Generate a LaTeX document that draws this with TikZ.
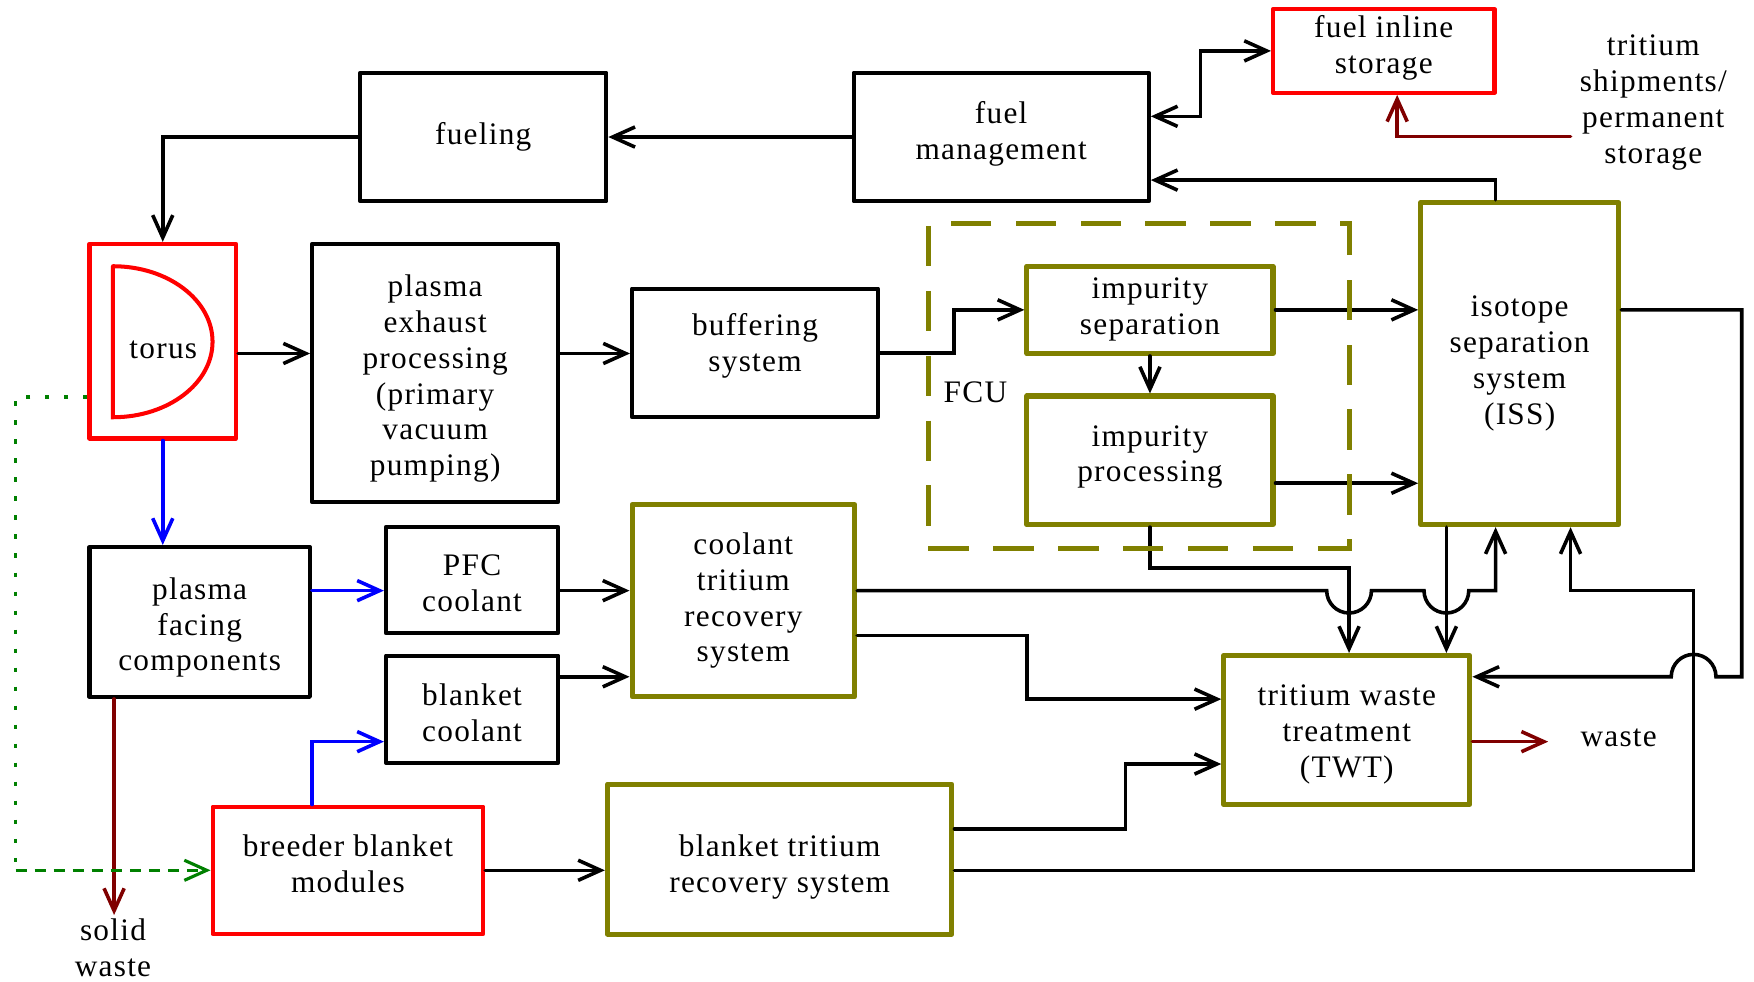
\documentclass[tikz,border=0pt]{standalone}
\usepackage{fontspec}
\setmainfont{Liberation Serif}[LetterSpace=4]
\usetikzlibrary{arrows.meta}
\definecolor{olv}{RGB}{128,128,0}
\definecolor{drk}{RGB}{128,0,0}
\definecolor{grn}{RGB}{0,128,0}
\begin{document}
\begin{tikzpicture}[x=0.5pt,y=-0.5pt,
  >={Straight Barb[length=10pt,width=9pt]},
  lbl/.style={font=\fontsize{14pt}{16pt}\selectfont, align=center, inner sep=0pt},
  bx/.style={lbl, draw, line width=1.8pt, rectangle, line join=round},
  kbox/.style={bx, draw=black},
  rbox/.style={bx, draw=red},
  obox/.style={bx, draw=olv, line width=2.25pt},
  conn/.style={line width=1.6pt, line cap=round, line join=miter},
]
\useasboundingbox (0,0) rectangle (1568,877);

% boxes
\node[kbox, minimum width=110pt, minimum height=57.5pt] (fueling) at (432,122.5) {fueling};
\node[kbox, minimum width=132pt, minimum height=57.5pt] (fuelmgmt) at (895,122.5) {};
\node[lbl] (fuelmgmtT) at (895,120) {fuel\\management};
\node[rbox, minimum width=99pt, minimum height=37.5pt] (inline) at (1237,45.5) {};
\node[lbl] (inlineT) at (1237,43) {fuel inline\\storage};
\node[rbox, minimum width=65.5pt, minimum height=87pt] (torus) at (145.5,305) {};
\draw[red, line width=1.8pt, line cap=round] (101,238) -- (101,373)
  arc[start angle=-90, end angle=90, x radius=44.5pt, y radius=33.75pt];
\node[lbl] (toruslbl) at (146,313) {torus};
\node[kbox, minimum width=110pt, minimum height=115.5pt] (pep) at (389,333.5) {};
\node[lbl] (pepT) at (389,338.5) {plasma\\exhaust\\processing\\(primary\\vacuum\\pumping)};
\node[kbox, minimum width=110pt, minimum height=57.5pt] (buff) at (675,315.5) {};
\node[lbl] (buffT) at (675,309.5) {buffering\\system};
\node[obox, minimum width=110pt, minimum height=39pt] (isep) at (1028,277) {impurity\\separation};
\node[obox, minimum width=110pt, minimum height=57.5pt] (iproc) at (1028,411.5) {};
\node[lbl] (iprocT) at (1028,408.5) {impurity\\processing};
\node[obox, minimum width=88.5pt, minimum height=144pt] (iss) at (1358.5,325) {isotope\\separation\\system\\(ISS)};
\node[kbox, minimum width=98.5pt, minimum height=67pt] (pfc) at (178.5,556) {};
\node[lbl] (pfcT) at (178.5,561) {plasma\\facing\\components};
\node[kbox, minimum width=77pt, minimum height=47.5pt] (pfccool) at (422,518.5) {};
\node[lbl] (pfccoolT) at (422,521.5) {PFC\\coolant};
\node[kbox, minimum width=77pt, minimum height=48pt] (bcool) at (422,634) {};
\node[lbl] (bcoolT) at (422,637) {blanket\\coolant};
\node[obox, minimum width=99.5pt, minimum height=86pt] (ctrs) at (664.5,537) {coolant\\tritium\\recovery\\system};
\node[obox, minimum width=110pt, minimum height=66.5pt] (twt) at (1204,652.5) {};
\node[lbl] (twtT) at (1204,656.5) {tritium waste\\treatment\\(TWT)};
\node[rbox, minimum width=121pt, minimum height=57pt] (bbm) at (311,778) {};
\node[lbl] (bbmT) at (311,772) {breeder blanket\\modules};
\node[obox, minimum width=154pt, minimum height=67pt] (btrs) at (697,768) {};
\node[lbl] (btrsT) at (697,775) {blanket tritium\\recovery system};

% free texts
\node[lbl] (ts) at (1478,91.5) {tritium\\shipments/\\permanent\\storage};
\node[lbl] (wst) at (1447,660) {waste};
\node[lbl] (sw) at (101,847) {solid\\waste};
\node[lbl] (fculbl) at (872,351) {FCU};
\coordinate (tsin) at (1404,122);
\coordinate (wsin) at (1384,663);
\coordinate (swin) at (102,818);
\coordinate (gc1) at (14,355);
\coordinate (gc2) at (14,778);

% connectors
\draw[conn,->] (fuelmgmt.west) -- (fueling.east);
\draw[conn,->] (fueling.west) -| (torus.north);
\draw[conn,<->] (fuelmgmt.east |- 0,104) -- (1073,104) |- (inline.west);
\draw[conn,drk,->] (tsin) -| (inline.south -| 1249,0);
\draw[conn,->] (iss.north -| 1337,0) |- (fuelmgmt.east |- 0,161);
\draw[conn,->] (torus.east |- 0,316) -- (pep.west |- 0,316);
\draw[conn,->] (pep.east |- 0,316) -- (buff.west |- 0,316);
\draw[conn,->] (buff.east) -- (853,315.5) |- (isep.west);
\draw[conn,->] (isep.south) -- (iproc.north);
\draw[conn,->] (isep.east) -- (iss.west |- isep.east);
\draw[conn,->] (iproc.east |- 0,432) -- (iss.west |- 0,432);
\draw[conn,blue,->] (torus.south) -- (torus.south |- pfc.north);
\draw[conn,blue,->] (pfc.east |- 0,528) -- (pfccool.west |- 0,528);
\draw[conn,->] (pfccool.east |- 0,528) -- (ctrs.west |- 0,528);
\draw[conn,->] (bcool.east |- 0,605) -- (ctrs.west |- 0,605);
\draw[conn,blue,->] (bbm.north -| 279,0) |- (bcool.west |- 0,663);
\draw[conn,drk,->] (pfc.south -| swin) -- (swin);
\draw[grn, line width=1.6pt, dash pattern=on 2pt off 6.5pt] (torus.west |- gc1) -- (gc1) -- (gc2);
\draw[grn, line width=1.4pt, dash pattern=on 5pt off 3.5pt, ->] (gc2) -- (bbm.west);
\draw[conn,->] (bbm.east) -- (btrs.west |- bbm.east);
\draw[conn,->] (ctrs.east |- 0,528) -- (1186,528)
  arc[start angle=180, end angle=360, radius=10pt] -- (1273,528)
  arc[start angle=180, end angle=360, radius=10pt] -- (1337,528) -- (iss.south -| 1337,0);
\draw[conn,->] (ctrs.east |- 0,568) -- (918,568) |- (twt.west |- 0,625);
\draw[conn,->] (btrs.east |- 0,741) -- (1006,741) |- (twt.west |- 0,683);
\draw[conn,->] (btrs.east |- 0,778) -- (1514,778) -- (1514,528) -- (1404,528) -- (iss.south -| 1404,0);
\draw[conn,->] (iproc.south) -- (1028,508) -- (1206,508) -- (twt.north -| 1206,0);
\draw[conn,->] (iss.south -| 1293,0) -- (twt.north -| 1293,0);
\draw[conn,->] (iss.east |- 0,277) -- (1557,277) -- (1557,605) -- (1534,605)
  arc[start angle=0, end angle=180, radius=10pt] -- (twt.east |- 0,605);
\draw[conn,drk,->] (twt.east |- wsin) -- (wsin);

% FCU group
\node[draw=olv, line width=2.25pt, dash pattern=on 18pt off 11pt, minimum width=188pt, minimum height=145pt, inner sep=0pt] (fcu) at (1018,345) {};
\end{tikzpicture}
\end{document}
